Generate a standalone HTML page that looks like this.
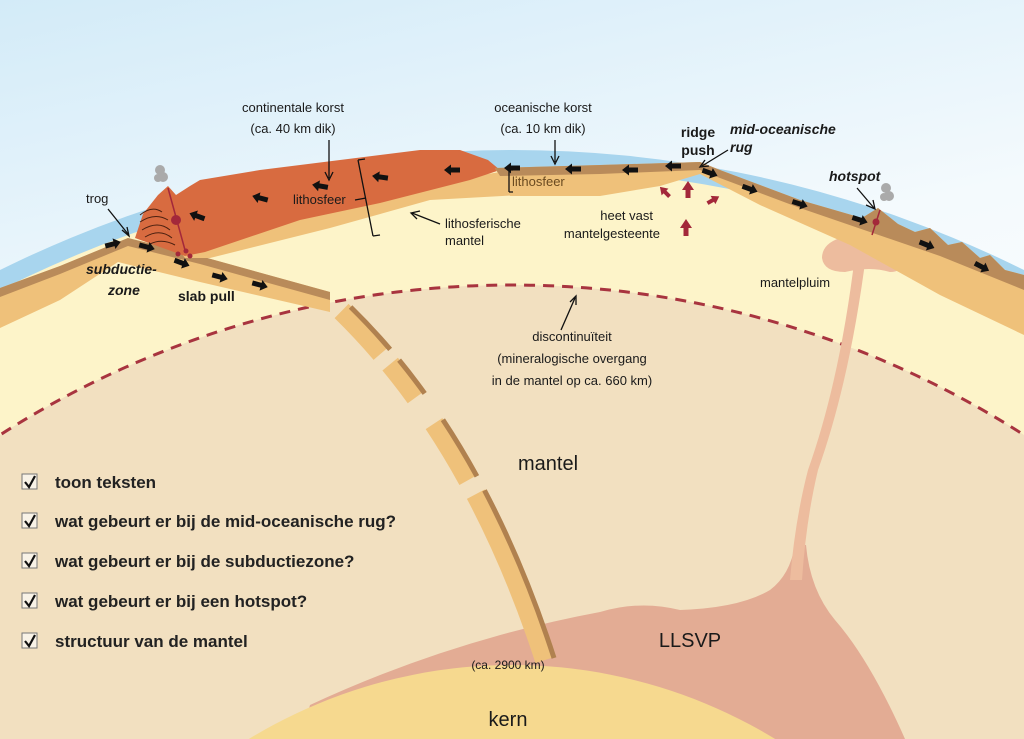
<!DOCTYPE html>
<html><head><meta charset="utf-8"><style>
html,body{margin:0;padding:0;background:#fff;width:1024px;height:739px;overflow:hidden}
svg{display:block;overflow:hidden}
text{font-family:"Liberation Sans",sans-serif;fill:#1a1a1a}
.s{font-size:13px}
.b{font-weight:bold;font-size:14px}
.bi{font-weight:bold;font-style:italic;font-size:14px}
.cb{font-weight:bold;font-size:17px;fill:#222}
</style></head><body>
<svg width="1024" height="739" viewBox="0 0 1024 739" xmlns="http://www.w3.org/2000/svg">
<defs>
<linearGradient id="sky" x1="0" y1="0" x2="0.3" y2="1">
<stop offset="0" stop-color="#d3ebf8"/><stop offset="0.5" stop-color="#f4fafd"/><stop offset="1" stop-color="#ffffff"/>
</linearGradient>
<clipPath id="c"><rect width="1024" height="739"/></clipPath>
<g id="ar"><polygon points="-8,-2.5 1,-2.5 1,-5.5 8,0 1,5.5 1,2.5 -8,2.5" fill="#111"/></g>
<g id="ra"><polygon points="-2.5,8 -2.5,0 -6,0 0,-9 6,0 2.5,0 2.5,8" fill="#a3283a"/></g>
</defs>
<g clip-path="url(#c)">
<rect width="1024" height="739" fill="url(#sky)"/>
<circle cx="512" cy="1302" r="1152" fill="#a8d5ee"/>
<circle cx="512" cy="1302" r="1134" fill="#fdf4c9"/>
<circle cx="512" cy="1234" r="949" fill="#f2e0c0"/>
<circle cx="512" cy="1234" r="949" fill="none" stroke="#a8343f" stroke-width="3" stroke-dasharray="11 8"/>
<path d="M300,739 L310,705 Q450,640 600,612 Q640,600 680,610 Q740,608 770,590 Q790,575 795,545 L806,545 Q810,590 835,620 Q870,660 905,739 Z" fill="#e3ac94"/>
<circle cx="512" cy="1170" r="505" fill="#f6d98f"/>
<path d="M855,255 Q840,380 808,470 Q795,520 790,580 L802,580 Q806,520 818,470 Q850,380 866,255 Z" fill="#edbc9e"/>
<path d="M840,238 Q858,230 878,236 Q898,242 902,258 Q905,272 890,272 Q870,266 845,272 Q824,272 822,258 Q822,244 840,238 Z" fill="#edbc9e"/>
<path d="M330,300 Q470,430 545,660" fill="none" stroke="#efc17a" stroke-width="20" stroke-dasharray="0 16 58 14 42 32 66 16 300"/>
<path d="M339,296 Q479,426 554,658" fill="none" stroke="#b0814f" stroke-width="5" stroke-dasharray="0 16 58 14 42 32 66 16 300"/>
<path d="M0,288 L60,266 L128,238 L200,256 L330,292 L330,312 L200,282 L118,262 L60,300 L0,328 Z" fill="#efc17a"/>
<path d="M0,288 L60,266 L128,238 L200,256 L330,292 L330,300 L200,264 L128,246 L60,274 L0,297 Z" fill="#b98b5a"/>
<path d="M175,245 L300,210 L420,185 L500,172 L520,176 L520,195 L430,200 L330,228 L210,258 L185,258 Z" fill="#efc17a"/>
<path d="M135,238 L143,214 L158,195 L168,186 L176,195 L190,186 L200,180 L260,170 L420,150 L460,150 L488,160 L500,170 L470,180 L380,203 L300,220 L205,252 L185,256 Z" fill="#d86b40"/>
<path d="M495,168 L600,165 L700,162 L720,170 L800,200 L862,218 L878,208 L898,224 L915,232 L930,228 L948,245 L962,242 L980,258 L990,255 L1005,270 L1024,275 L1024,335 L940,295 L850,245 L760,205 L700,174 L660,186 L600,196 L510,196 Z" fill="#efc17a"/>
<path d="M495,168 L600,165 L700,162 L720,170 L800,200 L862,218 L878,208 L898,224 L915,232 L930,228 L948,245 L962,242 L980,258 L990,255 L1005,270 L1024,275 L1024,290 L940,256 L800,208 L720,178 L700,170 L600,174 L500,176 Z" fill="#b98b5a"/>
<line x1="168" y1="188" x2="185" y2="250" stroke="#a3283a" stroke-width="1.5"/>
<circle cx="176" cy="220" r="5" fill="#a3283a"/>
<circle cx="178" cy="254" r="2.5" fill="#a3283a"/><circle cx="186" cy="251" r="2.5" fill="#a3283a"/><circle cx="190" cy="256" r="2.5" fill="#a3283a"/>
<g fill="none" stroke="#4a2010" stroke-width="1">
<path d="M140,215 Q152,205 162,212"/><path d="M140,222 Q155,212 168,220"/><path d="M142,230 Q158,220 170,230"/><path d="M145,237 Q160,228 172,238"/><path d="M150,244 Q162,238 175,245"/>
</g>
<circle cx="160" cy="170" r="5" fill="#aaa"/><circle cx="163" cy="177" r="5" fill="#aaa"/><circle cx="158" cy="178" r="4" fill="#aaa"/>
<line x1="872" y1="235" x2="880" y2="210" stroke="#a3283a" stroke-width="1.5"/>
<circle cx="876" cy="222" r="3.5" fill="#a3283a"/>
<circle cx="886" cy="188" r="5" fill="#aaa"/><circle cx="889" cy="196" r="5" fill="#aaa"/><circle cx="884" cy="197" r="4" fill="#aaa"/>
<use href="#ar" transform="translate(452,170) rotate(180)"/>
<use href="#ar" transform="translate(380,177) rotate(188)"/>
<use href="#ar" transform="translate(320,186) rotate(190)"/>
<use href="#ar" transform="translate(260,198) rotate(195)"/>
<use href="#ar" transform="translate(197,216) rotate(200)"/>
<use href="#ar" transform="translate(512,168) rotate(180)"/>
<use href="#ar" transform="translate(573,169) rotate(180)"/>
<use href="#ar" transform="translate(630,170) rotate(180)"/>
<use href="#ar" transform="translate(673,166) rotate(180)"/>
<use href="#ar" transform="translate(710,173) rotate(20)"/>
<use href="#ar" transform="translate(750,189) rotate(20)"/>
<use href="#ar" transform="translate(800,204) rotate(18)"/>
<use href="#ar" transform="translate(860,220) rotate(18)"/>
<use href="#ar" transform="translate(927,245) rotate(22)"/>
<use href="#ar" transform="translate(982,267) rotate(28)"/>
<use href="#ar" transform="translate(113,244) rotate(-15)"/>
<use href="#ar" transform="translate(147,247) rotate(15)"/>
<use href="#ar" transform="translate(182,263) rotate(20)"/>
<use href="#ar" transform="translate(220,277) rotate(15)"/>
<use href="#ar" transform="translate(260,285) rotate(15)"/>
<use href="#ra" transform="translate(688,190)"/>
<use href="#ra" transform="translate(686,228)"/>
<use href="#ra" transform="translate(665,192) rotate(-45) scale(0.8)"/>
<use href="#ra" transform="translate(713,200) rotate(60) scale(0.8)"/>
<g stroke="#111" stroke-width="1.3" fill="none">
<path d="M329,140 L329,178"/><path d="M325,172 L329,180 L333,172"/>
<path d="M108,209 L128,234"/><path d="M122,230 L129,236 L127,227"/>
<path d="M358,160 L373,236 M358,160 L365,159 M373,236 L380,235 M355,200 L366,198"/>
<path d="M440,224 L412,213"/><path d="M420,211 L411,213 L417,219"/>
<path d="M555,140 L555,162"/><path d="M551,156 L555,164 L559,156"/>
<path d="M509,170 L509,192 M509,170 L513,170 M509,192 L513,192"/>
<path d="M728,150 L702,166"/><path d="M705,160 L700,167 L709,166"/>
<path d="M857,188 L874,208"/><path d="M866,205 L875,209 L873,200"/>
<path d="M561,330 L575,298"/><path d="M570,302 L576,296 L576,305"/>
</g>
<text class="s" x="293" y="112" text-anchor="middle">continentale korst</text>
<text class="s" x="293" y="133" text-anchor="middle">(ca. 40 km dik)</text>
<text class="s" x="86" y="203">trog</text>
<text class="s" x="293" y="204">lithosfeer</text>
<text class="s" x="445" y="228">lithosferische</text>
<text class="s" x="445" y="245">mantel</text>
<text class="bi" x="86" y="274">subductie-</text>
<text class="bi" x="108" y="295">zone</text>
<text class="b" x="178" y="301">slab pull</text>
<text class="s" x="543" y="112" text-anchor="middle">oceanische korst</text>
<text class="s" x="543" y="133" text-anchor="middle">(ca. 10 km dik)</text>
<text class="s" x="512" y="186" style="fill:#6a4a20">lithosfeer</text>
<text class="b" x="698" y="137" text-anchor="middle">ridge</text>
<text class="b" x="698" y="155" text-anchor="middle">push</text>
<text class="bi" x="730" y="134">mid-oceanische</text>
<text class="bi" x="730" y="152">rug</text>
<text class="s" x="653" y="220" text-anchor="end">heet vast</text>
<text class="s" x="660" y="238" text-anchor="end">mantelgesteente</text>
<text class="bi" x="829" y="181">hotspot</text>
<text class="s" x="760" y="287">mantelpluim</text>
<text class="s" x="572" y="341" text-anchor="middle">discontinuïteit</text>
<text class="s" x="572" y="363" text-anchor="middle">(mineralogische overgang</text>
<text class="s" x="572" y="385" text-anchor="middle">in de mantel op ca. 660 km)</text>
<text x="548" y="470" text-anchor="middle" style="font-size:20px">mantel</text>
<text x="690" y="647" text-anchor="middle" style="font-size:20px">LLSVP</text>
<text x="508" y="669" text-anchor="middle" style="font-size:12px">(ca. 2900 km)</text>
<text x="508" y="726" text-anchor="middle" style="font-size:20px">kern</text>
<g>
<rect x="22" y="474" width="15" height="15" fill="#f8f2e6" stroke="#777"/>
<rect x="22" y="513" width="15" height="15" fill="#f8f2e6" stroke="#777"/>
<rect x="22" y="553" width="15" height="15" fill="#f8f2e6" stroke="#777"/>
<rect x="22" y="593" width="15" height="15" fill="#f8f2e6" stroke="#777"/>
<rect x="22" y="633" width="15" height="15" fill="#f8f2e6" stroke="#777"/>
<g fill="none" stroke="#111" stroke-width="2.2">
<path d="M25,482 L29,487 L35,476"/><path d="M25,521 L29,526 L35,515"/><path d="M25,561 L29,566 L35,555"/><path d="M25,601 L29,606 L35,595"/><path d="M25,641 L29,646 L35,635"/>
</g>
<text class="cb" x="55" y="488">toon teksten</text>
<text class="cb" x="55" y="527">wat gebeurt er bij de mid-oceanische rug?</text>
<text class="cb" x="55" y="567">wat gebeurt er bij de subductiezone?</text>
<text class="cb" x="55" y="607">wat gebeurt er bij een hotspot?</text>
<text class="cb" x="55" y="647">structuur van de mantel</text>
</g>
</g>
</svg>
</body></html>
